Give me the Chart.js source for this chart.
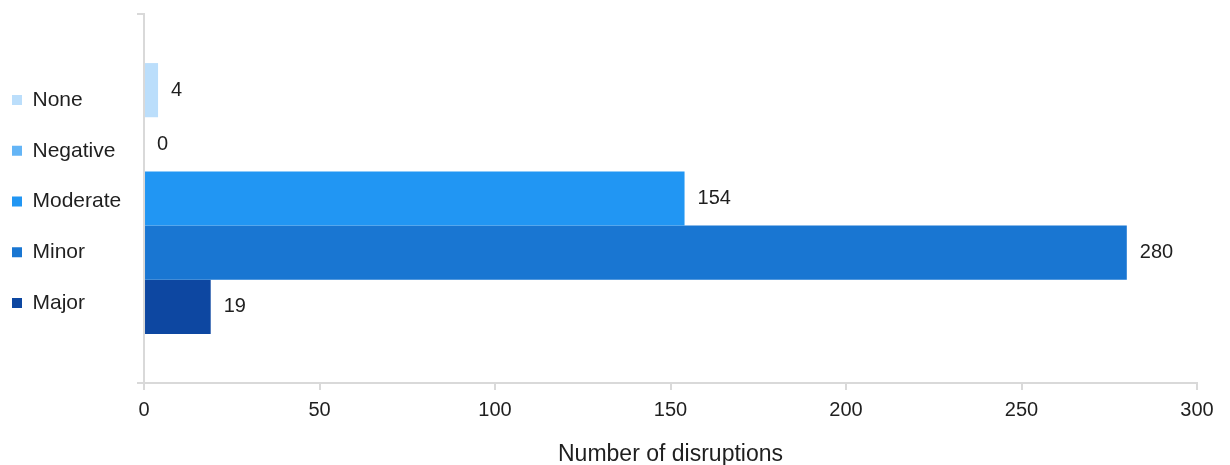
<!DOCTYPE html>
<html>
<head>
<meta charset="utf-8">
<script src="https://cdn.jsdelivr.net/npm/chart.js@4/dist/chart.umd.min.js"></script>
<style>
  html, body { margin: 0; padding: 0; background: #ffffff; }
  #wrap { width: 1230px; height: 465px; }
</style>
</head>
<body>
<div id="wrap"><canvas id="c" width="1230" height="465"></canvas></div>
<script>
const categories = [''];
const seriesNames = ['None', 'Negative', 'Moderate', 'Minor', 'Major'];
const seriesValues = [4, 0, 154, 280, 19];
const seriesColors = ['#BBDEFB', '#64B5F6', '#2196F3', '#1976D2', '#0D47A1'];
const xTicks = [0, 50, 100, 150, 200, 250, 300];
const xTitle = 'Number of disruptions';

const FONT = '"Liberation Sans", Arial, Helvetica, sans-serif';
const TEXT = '#1f1f1f';
const AXIS = '#d9d9d9';

const datasets = seriesNames.map((name, i) => ({
  label: name,
  data: [seriesValues[i]],
  backgroundColor: seriesColors[i],
  borderWidth: 0,
  categoryPercentage: 0.734,
  barPercentage: 1.0
}));

const valueLabels = {
  id: 'valueLabels',
  afterDatasetsDraw(chart) {
    const ctx = chart.ctx;
    ctx.save();
    ctx.font = '20px ' + FONT;
    ctx.fillStyle = TEXT;
    ctx.textAlign = 'left';
    ctx.textBaseline = 'middle';
    chart.data.datasets.forEach((ds, i) => {
      const meta = chart.getDatasetMeta(i);
      meta.data.forEach((el, j) => {
        ctx.fillText(String(ds.data[j]), el.x + 13, el.y);
      });
    });
    ctx.restore();
  }
};

new Chart(document.getElementById('c'), {
  type: 'bar',
  data: { labels: categories, datasets },
  options: {
    indexAxis: 'y',
    responsive: false,
    animation: false,
    layout: { padding: { top: 14, right: 33, bottom: -1, left: -17.7 } },
    plugins: {
      legend: {
        position: 'left',
        fullSize: false,
        align: 'center',
        title: { display: true, text: '', padding: 0, font: { size: 5, lineHeight: 1.2 } },
        labels: {
          boxWidth: 10,
          boxHeight: 10,
          padding: 29.7,
          color: TEXT,
          font: { size: 21, family: FONT }
        }
      },
      tooltip: { enabled: false }
    },
    scales: {
      x: {
        min: 0,
        max: 300,
        afterBuildTicks: s => { s.ticks = xTicks.map(v => ({ value: v })); },
        ticks: { color: TEXT, font: { size: 20, family: FONT }, padding: 8 },
        grid: { drawOnChartArea: false, drawTicks: true, tickLength: 7, color: AXIS, lineWidth: 2 },
        border: { display: true, color: AXIS, width: 2 },
        title: {
          display: true,
          text: xTitle,
          color: TEXT,
          font: { size: 23, family: FONT, lineHeight: 1 },
          padding: { top: 13, bottom: 0 }
        }
      },
      y: {
        ticks: { display: false },
        grid: { drawOnChartArea: false, drawTicks: true, tickLength: 7, color: AXIS, lineWidth: 2 },
        border: { display: true, color: AXIS, width: 2 },
        afterFit: s => { s.width = 12.8; }
      }
    }
  },
  plugins: [valueLabels]
});
</script>
</body>
</html>
